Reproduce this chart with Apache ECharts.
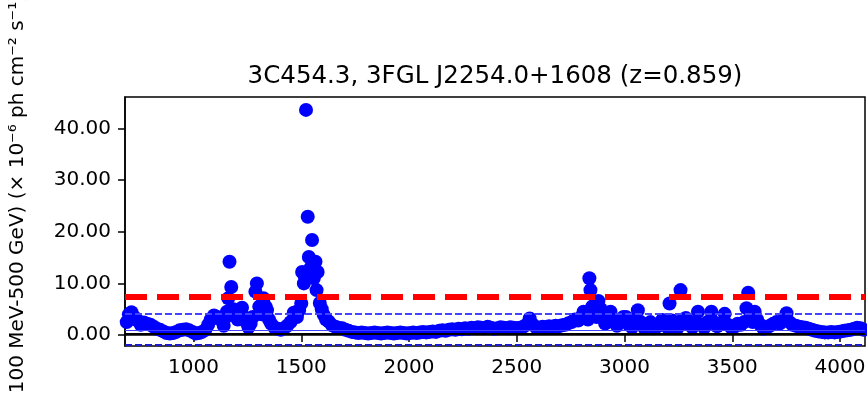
<!DOCTYPE html>
<html>
<head>
<meta charset="utf-8">
<script src="https://cdn.jsdelivr.net/npm/echarts@6/dist/echarts.min.js"></script>
<style>
html,body{margin:0;padding:0;background:#fff;}
#chart{width:867px;height:393px;}
</style>
</head>
<body>
<div id="chart"></div>
<script>
// Time (days) and flux (x 1e-6 ph cm^-2 s^-1)
const days = [
 690,700,712,725,740,755,770,785,800,815,830,845,860,875,890,905,920,935,950,965,
 980,995,1010,1025,1040,1055,1068,1080,1095,1110,1125,1140,1150,1155,1161,1167,1175,1185,1195,1205,
 1215,1225,1235,1245,1255,1265,1275,1287,1294,1305,1315,1325,1335,1341,1350,1360,1375,1390,1405,1420,
 1435,1450,1465,1480,1490,1500,1504,1512,1516,1522,1530,1535,1543,1550,1558,1566,1571,1576,1586,1595,
 1604,1615,1628,1643,1658,1673,1690,1705,1720,1735,1750,1765,1780,1795,1810,1825,1840,1855,1870,1885,
 1900,1915,1930,1945,1960,1975,1990,2005,2020,2035,2050,2065,2080,2095,2110,2125,2140,2155,2170,2185,
 2200,2215,2230,2245,2260,2275,2290,2305,2320,2335,2350,2365,2380,2395,2410,2425,2440,2455,2470,2485,
 2500,2515,2530,2545,2560,2575,2590,2605,2620,2635,2650,2665,2680,2695,2710,2725,2740,2755,2770,2785,
 2800,2810,2821,2830,2837,2842,2850,2860,2870,2879,2890,2900,2910,2920,2935,2950,2965,2980,2995,3007,
 3020,3035,3050,3062,3075,3090,3105,3120,3135,3150,3165,3175,3190,3200,3209,3220,3235,3245,3260,3270,
 3285,3300,3315,3330,3341,3355,3370,3385,3403,3415,3430,3445,3465,3480,3495,3510,3525,3540,3555,3566,
 3574,3585,3595,3604,3615,3630,3645,3660,3675,3690,3705,3720,3735,3752,3765,3780,3795,3810,3825,3840,
 3855,3870,3885,3900,3915,3930,3945,3960,3975,3990,4005,4020,4035,4050,4065,4080,4095,4110
];
const flux = [
 2.5,4.0,4.4,3.5,2.8,2.0,2.4,2.2,2.0,1.6,1.2,1.0,0.7,0.4,0.3,0.4,0.6,0.9,1.0,1.1,
 0.9,0.6,0.3,0.4,0.6,1.0,2.0,3.0,3.8,3.5,3.0,1.8,3.5,4.5,7.1,14.2,9.3,5.0,4.0,3.0,
 4.6,5.3,3.5,2.5,1.5,2.2,3.5,8.4,10.0,5.5,4.0,7.1,5.5,4.8,3.0,2.2,1.5,1.2,1.0,1.3,
 1.8,2.5,4.3,3.5,4.8,6.1,12.2,10.0,11.4,43.6,22.9,15.1,13.0,18.4,11.0,14.2,8.7,12.2,6.2,5.0,
 3.9,3.0,2.6,1.9,1.6,1.4,1.3,1.0,0.8,0.6,0.5,0.4,0.5,0.4,0.3,0.4,0.5,0.4,0.3,0.4,
 0.5,0.4,0.3,0.4,0.5,0.4,0.3,0.4,0.5,0.4,0.5,0.6,0.5,0.6,0.7,0.6,0.8,0.9,0.8,1.0,
 1.1,1.0,1.2,1.1,1.3,1.2,1.4,1.3,1.5,1.4,1.3,1.6,1.4,1.2,1.3,1.5,1.4,1.3,1.5,1.4,
 1.3,1.4,1.6,2.0,3.2,2.0,1.5,1.4,1.6,1.5,1.7,1.6,1.8,1.7,1.9,2.0,2.3,2.5,3.0,2.8,
 3.5,4.5,4.3,3.0,11.0,8.7,5.5,4.0,3.5,6.6,5.0,3.5,2.2,3.0,4.5,2.5,1.8,3.0,3.5,3.5,
 2.0,1.5,2.8,4.8,2.5,1.5,1.8,2.5,1.3,1.6,2.0,2.9,2.3,1.5,6.1,2.8,2.0,1.3,8.7,3.0,
 3.3,2.0,1.5,2.5,4.5,2.0,1.4,2.5,4.5,2.5,1.7,2.2,4.1,2.0,1.5,1.6,2.2,2.0,2.5,5.2,
 8.2,3.5,2.5,4.5,3.0,2.0,1.2,1.5,1.8,2.2,2.5,2.2,2.8,4.2,2.5,2.0,1.8,1.6,1.5,1.4,
 1.2,1.0,0.8,0.7,0.6,0.5,0.5,0.6,0.5,0.6,0.7,0.8,0.9,1.0,1.2,1.4,1.3,1.0
];
// Reference levels
const redLevel = 7.4;        // thick red dashed
const blueDashLevel = 4.1;   // thin blue dashed
const blackLevel = 0.25;     // black solid
const blueThinLevel = 0.83;  // thin blue solid
const lowDashLevel = -1.93;  // bottom blue dashed
const xTicks = [1000,1500,2000,2500,3000,3500,4000];
const yTicks = [0,10,20,30,40];
const xRange = [682, 4116];
const yRange = [-2.13, 46.1];

const titleText = '3C454.3, 3FGL J2254.0+1608 (z=0.859)';
const yName = 'Flux (100 MeV-500 GeV) (\u00d7 10\u207b\u2076 ph cm\u207b\u00b2 s\u207b\u00b9)';

const pts = days.map((d,i)=>[d, flux[i]]);
const font = 'DejaVu Sans';

const chart = echarts.init(document.getElementById('chart'), null, {renderer:'canvas'});
chart.setOption({
  animation:false,
  backgroundColor:'#fff',
  title:{
    text:titleText, left:490, top:59, textAlign:'center',
    textStyle:{fontFamily:font,fontSize:24.5,fontWeight:'normal',color:'#000'}
  },
  grid:{left:125,right:2,top:97,bottom:47,show:true,borderColor:'#000',borderWidth:1.5,
        backgroundColor:'transparent',containLabel:false,outerBoundsMode:'none'},
  xAxis:{
    type:'value', min:xRange[0], max:xRange[1],
    axisLine:{show:true,lineStyle:{color:'#000',width:1.5}},
    axisTick:{show:true,length:7,lineStyle:{color:'#000',width:1.5},customValues:xTicks},
    axisLabel:{margin:12,fontFamily:font,fontSize:20,color:'#000',customValues:xTicks,
      formatter:v=>String(Math.round(v))},
    splitLine:{show:false}
  },
  yAxis:{
    type:'value', min:yRange[0], max:yRange[1],
    name:yName, nameLocation:'middle', nameRotate:90, nameGap:97,
    nameTextStyle:{fontFamily:font,fontSize:20,color:'#000'},
    axisLine:{show:true,lineStyle:{color:'#000',width:1.5}},
    axisTick:{show:true,length:7,lineStyle:{color:'#000',width:1.5},customValues:yTicks},
    axisLabel:{margin:14,fontFamily:font,fontSize:20,color:'#000',customValues:yTicks,
      formatter:v=>v.toFixed(2)},
    splitLine:{show:false}
  },
  series:[
    {
      type:'line', data:[], z:1, silent:true,
      markLine:{
        silent:true, symbol:['none','none'], label:{show:false}, animation:false,
        data:[
          {yAxis:blackLevel, lineStyle:{color:'#000',width:2,type:'solid'}},
          {yAxis:blueThinLevel, lineStyle:{color:'#3f3fff',width:1,type:'solid'}},
          {yAxis:lowDashLevel, lineStyle:{color:'#1a1acc',width:2,type:[7,3]}},
          {yAxis:blueDashLevel, lineStyle:{color:'#4444ff',width:2,type:[7,3]}},
          {yAxis:redLevel, lineStyle:{color:'#ff0000',width:6,type:[22,10]}}
        ]
      }
    },
    {
      type:'scatter', data:pts, z:3, symbol:'circle', symbolSize:14,
      itemStyle:{color:'#0000ff',opacity:1}
    }
  ]
});
</script>
</body>
</html>
